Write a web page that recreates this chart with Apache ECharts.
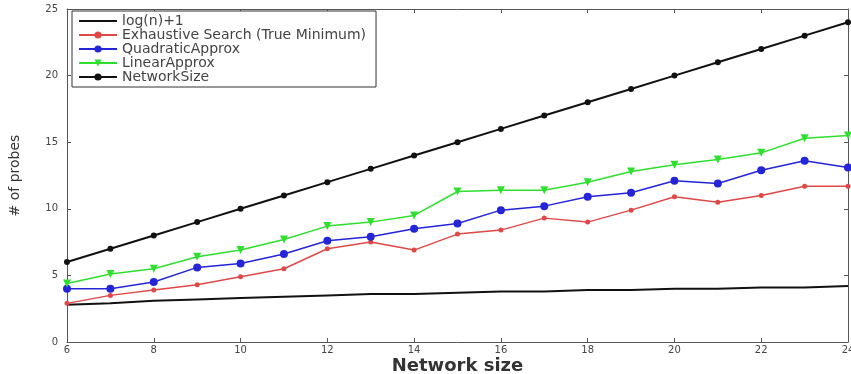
<!DOCTYPE html>
<html>
<head>
<meta charset="utf-8">
<script src="https://cdn.jsdelivr.net/npm/echarts@6/dist/echarts.min.js"></script>
<style>
  html, body { margin: 0; padding: 0; background: #fff; }
  #chart { width: 851px; height: 374px; }
</style>
</head>
<body>
<div id="chart"></div>
<script>
// network sizes on the x axis
const sizes = [6, 7, 8, 9, 10, 11, 12, 13, 14, 15, 16, 17, 18, 19, 20, 21, 22, 23, 24]

// values
const logN = [2.8, 2.9, 3.1, 3.2, 3.3, 3.4, 3.5, 3.6, 3.6, 3.7, 3.8, 3.8, 3.9, 3.9, 4.0, 4.0, 4.1, 4.1, 4.2]
const exhaustive = [2.9, 3.5, 3.9, 4.3, 4.9, 5.5, 7.0, 7.5, 6.9, 8.1, 8.4, 9.3, 9.0, 9.9, 10.9, 10.5, 11.0, 11.7, 11.7]
const quadratic = [4.0, 4.0, 4.5, 5.6, 5.9, 6.6, 7.6, 7.9, 8.5, 8.9, 9.9, 10.2, 10.9, 11.2, 12.1, 11.9, 12.9, 13.6, 13.1]
const linear = [4.4, 5.1, 5.5, 6.4, 6.9, 7.7, 8.7, 9.0, 9.5, 11.3, 11.4, 11.4, 12.0, 12.8, 13.3, 13.7, 14.2, 15.3, 15.5]
const networkSize = [6, 7, 8, 9, 10, 11, 12, 13, 14, 15, 16, 17, 18, 19, 20, 21, 22, 23, 24]

const names = ['log(n)+1', 'Exhaustive Search (True Minimum)', 'QuadraticApprox', 'LinearApprox', 'NetworkSize']

function pairs(vals) {
  return sizes.map((x, i) => [x, vals[i]])
}

const chart = echarts.init(document.getElementById('chart'))
const axisColor = '#555'
const font = 'DejaVu Sans'

function frameAxis(extra) {
  return Object.assign({
    axisLine: { show: true, onZero: false, lineStyle: { color: axisColor, width: 1 } },
    axisTick: { show: true, inside: true, length: 4, lineStyle: { color: axisColor } },
    splitLine: { show: false }
  }, extra)
}

const option = {
  animation: false,
  backgroundColor: '#fff',
  grid: { left: 67, right: 3, top: 9, bottom: 32, outerBoundsMode: 'none' },
  legend: {
    orient: 'vertical',
    left: 72,
    top: 11,
    padding: [3, 10, 3, 6],
    itemGap: 0,
    itemWidth: 38,
    itemHeight: 9,
    borderColor: '#333',
    borderWidth: 1,
    borderRadius: 0,
    backgroundColor: '#fff',
    textStyle: { fontFamily: font, fontSize: 14, color: '#444', lineHeight: 11.6 },
    data: [
      { name: names[0], itemStyle: { opacity: 0 } },
      names[1], names[2], names[3], names[4]
    ]
  },
  xAxis: [
    frameAxis({
      type: 'value', min: 6, max: 24, interval: 2,
      name: 'Network size', nameLocation: 'middle', nameGap: 15, nameMoveOverlap: false,
      nameTextStyle: { fontFamily: font, fontSize: 18, fontWeight: 'bold', color: '#333' },
      axisLabel: { fontFamily: font, fontSize: 10, color: '#444', margin: 3 }
    }),
    frameAxis({ type: 'value', min: 6, max: 24, interval: 2, position: 'top', axisLabel: { show: false } })
  ],
  yAxis: [
    frameAxis({
      type: 'value', min: 0, max: 25, interval: 5,
      name: '# of probes', nameLocation: 'middle', nameGap: 45, nameRotate: 90, nameMoveOverlap: false,
      nameTextStyle: { fontFamily: font, fontSize: 14, color: '#333' },
      axisLabel: { fontFamily: font, fontSize: 10, color: '#444', margin: 9 }
    }),
    frameAxis({ type: 'value', min: 0, max: 25, interval: 5, position: 'right', axisLabel: { show: false } })
  ],
  series: [
    {
      name: names[0], type: 'line', data: pairs(logN),
      symbol: 'none', color: '#111',
      lineStyle: { width: 2, color: '#111' }
    },
    {
      name: names[1], type: 'line', data: pairs(exhaustive),
      symbol: 'circle', symbolSize: 5, color: '#e04848',
      lineStyle: { width: 1.5, color: '#e04848' }
    },
    {
      name: names[2], type: 'line', data: pairs(quadratic),
      symbol: 'circle', symbolSize: 8, color: '#2424d8',
      lineStyle: { width: 1.5, color: '#2424d8' }
    },
    {
      name: names[3], type: 'line', data: pairs(linear),
      symbol: 'triangle', symbolRotate: 180, symbolSize: 8, color: '#2ee02e',
      lineStyle: { width: 1.5, color: '#2ee02e' }
    },
    {
      name: names[4], type: 'line', data: pairs(networkSize),
      symbol: 'circle', symbolSize: 6, color: '#111',
      lineStyle: { width: 2, color: '#111' }
    }
  ]
}

chart.setOption(option)
</script>
</body>
</html>
